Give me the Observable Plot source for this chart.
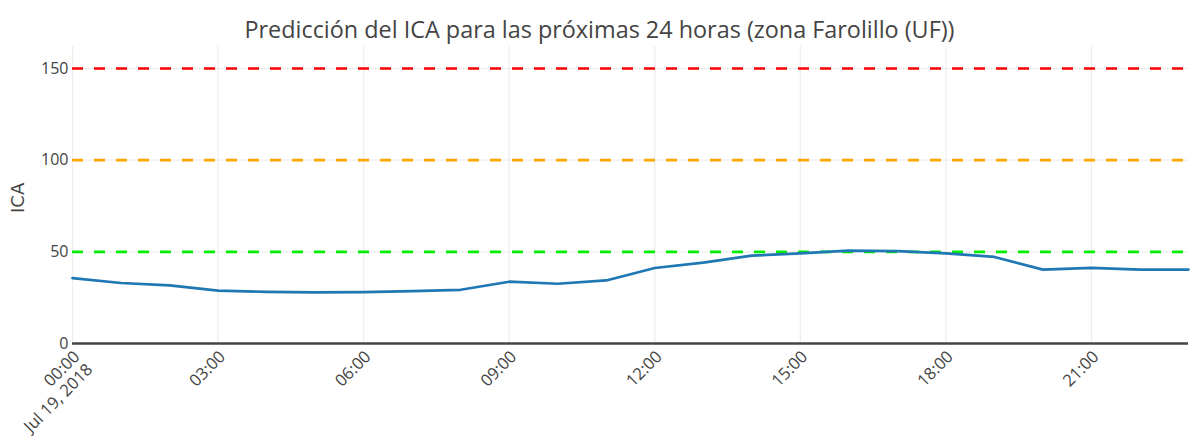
<!DOCTYPE html>
<html>
<head>
<meta charset="utf-8">
<script src="https://cdn.jsdelivr.net/npm/d3@7"></script>
<script src="https://cdn.jsdelivr.net/npm/@observablehq/plot@0.6"></script>
<style>
  html, body { margin: 0; padding: 0; background: #fff; }
  #chart svg { display: block; }
</style>
</head>
<body>
<div id="chart"></div>
<script>
// ---- data ----
const hours = ["00:00","01:00","02:00","03:00","04:00","05:00","06:00","07:00","08:00","09:00","10:00","11:00",
               "12:00","13:00","14:00","15:00","16:00","17:00","18:00","19:00","20:00","21:00","22:00","23:00"];
const icaValues = [35.7, 33.0, 31.7, 28.8, 28.2, 27.9, 28.0, 28.6, 29.3, 33.7, 32.6, 34.4,
                   41.2, 44.1, 47.9, 49.2, 50.7, 50.4, 49.2, 47.2, 40.3, 41.2, 40.3, 40.3];
const thresholds = [50, 100, 150];
const thresholdColors = ["#00ee00", "#ffa500", "#ff0000"];
const tickHours = ["00:00","03:00","06:00","09:00","12:00","15:00","18:00","21:00"];
const yTicks = [0, 50, 100, 150];
const dateLabel = "Jul 19, 2018";
const title = "Predicción del ICA para las próximas 24 horas (zona Farolillo (UF))";
const yLabel = "ICA";

const toDate = h => new Date("2018-07-19T" + h + ":00Z");
const series = hours.map((h, i) => ({t: toDate(h), v: icaValues[i]}));
const thr = thresholds.map((v, i) => ({v, c: thresholdColors[i]}));
const ticks = tickHours.map(toDate);
const fmt = d3.utcFormat("%H:%M");

const chart = Plot.plot({
  width: 1198,
  height: 446,
  marginTop: 46,
  marginBottom: 103,
  marginLeft: 72,
  marginRight: 10,
  style: {fontFamily: "'Open Sans', sans-serif", color: "#444", background: "#fff"},
  x: {type: "utc", domain: [toDate("00:00"), toDate("23:00")]},
  y: {domain: [0, 162]},
  marks: [
    Plot.gridX(ticks, {stroke: "#eeeeee", strokeOpacity: 1, strokeWidth: 1.3}),
    Plot.gridY(yTicks.slice(1), {stroke: "#eeeeee", strokeOpacity: 1, strokeWidth: 1.3}),
    Plot.ruleY(thr, {y: "v", stroke: "c", strokeWidth: 2.7, strokeDasharray: "11,11"}),
    Plot.ruleY([0], {stroke: "#444", strokeWidth: 2.7}),
    Plot.line(series, {x: "t", y: "v", stroke: "#1f77b4", strokeWidth: 2.7}),
    Plot.axisY(yTicks, {tickSize: 0, tickPadding: 4, fontSize: 16, fill: "#444", label: null}),
    Plot.axisX({ticks: [], label: null, tickSize: 0}),
    Plot.text(ticks, {
      x: d => d, y: () => 0,
      text: (d, i) => i === 0 ? fmt(d) + "\n" + dateLabel : fmt(d),
      rotate: -45, textAnchor: "end", lineAnchor: "top", lineHeight: 1.1,
      fontSize: 16.6, fill: "#444", dx: -1, dy: 5
    }),
    Plot.text([yLabel], {frameAnchor: "left", dx: -54, dy: 18, rotate: -90, fontSize: 18, fontFamily: "'DejaVu Sans', Verdana, sans-serif", fill: "#444"}),
    Plot.text([title], {frameAnchor: "top", dx: -31, dy: -25, fontSize: 23.4, fill: "#444"})
  ]
});
document.getElementById("chart").appendChild(chart);
</script>
</body>
</html>
